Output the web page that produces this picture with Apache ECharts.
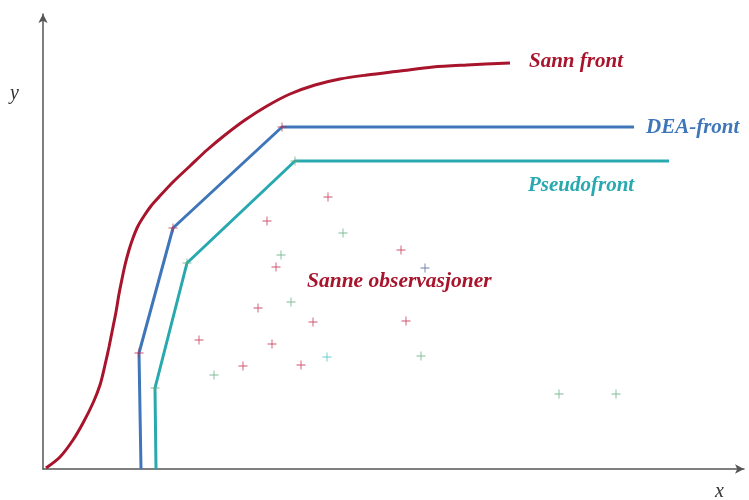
<!DOCTYPE html>
<html><head><meta charset="utf-8">
<script src="https://cdn.jsdelivr.net/npm/echarts@6/dist/echarts.min.js"></script>
<style>html,body{margin:0;padding:0;background:#fff}#c{width:749px;height:500px}</style>
</head><body><div id="c"></div>
<script>
// Values (arbitrary units: x input, y output)
const sannFront = [[3,1],[17,12],[30,29],[40,46],[50,66],[57,84],[62,104],[66,122],[70,142],[73,157],[76,175],[79,190],[82,204],[86,219],[90,231],[95,243],[101,253],[108,263],[116,272],[130,287],[147,303],[164,319],[182,334],[202,349],[224,363],[247,375],[272,384],[297,390],[324,394],[357,398],[390,402],[424,404],[467,406]];
const deaFront = [[98,0],[96,116],[130,241],[239,342],[591,342]];
const pseudoFront = [[113,0],[112,81],[144,206],[252,308],[626,308]];
const obsRed = [[285,272],[224,248],[358,219],[233,202],[215,161],[270,147],[363,148],[156,129],[229,125],[200,103],[258,104],[239,342],[130,241],[96,116]];
const obsGreen = [[300,236],[238,214],[248,167],[378,113],[171,94],[516,75],[573,75],[252,308],[144,206],[112,81]];
const obsTeal = [[284,112]];
const obsNavy = [[382,201]];
const labels = {sann:'Sann front', dea:'DEA-front', pseudo:'Pseudofront', obs:'Sanne observasjoner', x:'x', y:'y'};

const RED='#A8142C', BLUE='#3F76BA', TEAL='#27A9AF';
const plus='path://M4.5,0h1v4.5h4.5v1h-4.5v4.5h-1v-4.5h-4.5v-1h4.5z';
const chart = echarts.init(document.getElementById('c'));
const axisLine = {show:true, symbol:['none','arrow'], symbolSize:[7,9], lineStyle:{color:'#555', width:1.5}};
const lineS = (d,c,smooth)=>({type:'line', data:d, smooth:smooth, showSymbol:false, lineStyle:{color:c,width:3}, z:2, silent:true});
const scat = (d,c)=>({type:'scatter', data:d, symbol:plus, symbolSize:9, itemStyle:{color:c}, z:5, silent:true});
const tf = "'Liberation Serif','DejaVu Serif',serif";
chart.setOption({
  animation:false,
  grid:{left:43,right:5,top:14,bottom:31},
  xAxis:{type:'value',min:0,max:701,axisLine:axisLine,axisTick:{show:false},axisLabel:{show:false},splitLine:{show:false}},
  yAxis:{type:'value',min:0,max:455,axisLine:axisLine,axisTick:{show:false},axisLabel:{show:false},splitLine:{show:false}},
  series:[
    lineS(sannFront,RED,0.3),
    lineS(deaFront,BLUE,false),
    lineS(pseudoFront,TEAL,false),
    scat(obsRed,'#C42848'),
    scat(obsGreen,'#5FAA7C'),
    scat(obsTeal,'#3EC0CA'),
    scat(obsNavy,'#4B5C9A')
  ],
  graphic:[
    {type:'text',left:529,top:51,style:{text:labels.sann,fill:RED,font:"italic bold 21px "+tf}},
    {type:'text',left:646,top:117,style:{text:labels.dea,fill:BLUE,font:"italic bold 21px "+tf}},
    {type:'text',left:528,top:175,style:{text:labels.pseudo,fill:TEAL,font:"italic bold 21px "+tf}},
    {type:'text',left:307,top:270,style:{text:labels.obs,fill:RED,font:"italic bold 21.5px "+tf}},
    {type:'text',left:10,top:84,style:{text:labels.y,fill:'#333',font:"italic 20px "+tf}},
    {type:'text',left:715,top:482,style:{text:labels.x,fill:'#333',font:"italic 20px "+tf}}
  ]
});
</script></body></html>
